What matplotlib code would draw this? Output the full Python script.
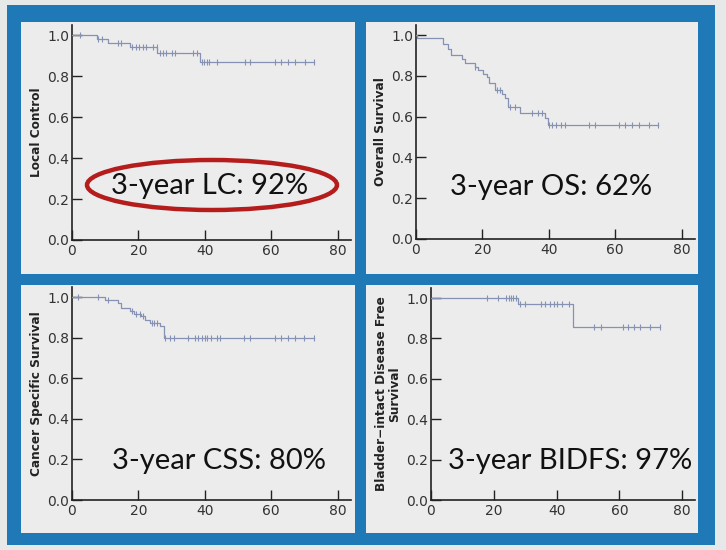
import numpy as np
import matplotlib
matplotlib.use("Agg")
import matplotlib.pyplot as plt
from matplotlib.patches import Rectangle, Ellipse

# ---------------- data ----------------
x_ticks = [0, 20, 40, 60, 80]
y_ticks = [0.0, 0.2, 0.4, 0.6, 0.8, 1.0]
y_tick_labels = ["0.0", "0.2", "0.4", "0.6", "0.8", "1.0"]

# Local control
lc_event_times = [7.4, 10.7, 17.4, 25.7, 38.5]
lc_surv = [1.0, 0.984, 0.963, 0.943, 0.915, 0.870]
lc_censor = [2.4, 7.9, 8.9, 13.9, 14.9, 18.2, 19.2, 20.2, 21.3, 22.3, 24.5, 25.5,
             26.5, 27.5, 28.3, 30.0, 31.0, 36.5, 37.5, 39.0, 39.7, 40.5, 41.3, 43.7,
             52.0, 53.5, 61.0, 63.0, 65.0, 67.0, 70.0, 73.0]

# Overall survival
os_event_times = [0.3, 8.0, 9.7, 10.5, 13.9, 14.9, 17.7, 18.7, 20.2, 21.3, 22.0,
                  23.8, 25.9, 26.8, 27.8, 31.3, 38.7, 39.6]
os_surv = [1.0, 0.984, 0.959, 0.931, 0.902, 0.881, 0.866, 0.845, 0.829, 0.810, 0.793,
           0.763, 0.730, 0.711, 0.690, 0.649, 0.620, 0.592, 0.560]
os_censor = [17.9, 24.3, 25.3, 28.3, 29.8, 35.0, 36.8, 37.8, 40.1, 41.0, 42.0, 43.8,
             45.0, 52.0, 53.8, 61.0, 63.0, 65.0, 67.0, 70.0, 73.0]

# Cancer specific survival
css_event_times = [9.9, 13.9, 14.9, 17.6, 18.6, 20.9, 21.9, 23.5, 26.5, 27.7]
css_surv = [1.0, 0.984, 0.971, 0.946, 0.933, 0.917, 0.906, 0.889, 0.873, 0.857, 0.797]
css_censor = [1.9, 7.9, 10.9, 18.2, 19.4, 20.4, 21.4, 24.0, 24.8, 25.5, 28.0, 29.5,
              30.7, 35.0, 37.0, 38.0, 39.0, 40.0, 40.7, 41.7, 43.7, 44.7, 51.7, 53.7,
              61.0, 63.0, 65.0, 67.0, 69.8, 72.8]

# Bladder-intact disease free survival
bidfs_event_times = [27.8, 45.2]
bidfs_surv = [1.0, 0.970, 0.858]
bidfs_censor = [17.7, 21.5, 23.9, 24.7, 25.4, 26.2, 27.1, 28.4, 29.9, 34.9, 36.3,
                37.9, 39.2, 40.0, 41.6, 44.0, 51.9, 54.1, 61.1, 62.9, 64.7, 66.6,
                69.8, 73.0]

panels = [
    ("Local Control", lc_event_times, lc_surv, lc_censor, "3-year LC: 92%"),
    ("Overall Survival", os_event_times, os_surv, os_censor, "3-year OS: 62%"),
    ("Cancer Specific Survival", css_event_times, css_surv, css_censor, "3-year CSS: 80%"),
    ("Bladder\u2212intact Disease Free\nSurvival", bidfs_event_times, bidfs_surv,
     bidfs_censor, "3-year BIDFS: 97%"),
]

# ---------------- figure ----------------
W, H = 726, 550
fig = plt.figure(figsize=(W / 100, H / 100), dpi=100)
fig.patch.set_facecolor("#e7e9e9")

def fbox(x0, y0, x1, y1):
    """pixel box (top-left origin) -> figure fraction [l, b, w, h]"""
    return [x0 / W, 1 - y1 / H, (x1 - x0) / W, (y1 - y0) / H]

BLUE = "#1f79b7"
PANEL = "#ececec"
l, b, w, h = fbox(7, 5, 715, 545)
fig.patches.append(Rectangle((l, b), w, h, transform=fig.transFigure,
                             facecolor=BLUE, edgecolor="none", zorder=0))
for (x0, y0, x1, y1) in [(21, 22, 355, 274), (366, 22, 698, 274),
                         (21, 285, 355, 533), (366, 285, 698, 533)]:
    l, b, w, h = fbox(x0, y0, x1, y1)
    fig.patches.append(Rectangle((l, b), w, h, transform=fig.transFigure,
                                 facecolor=PANEL, edgecolor="none", zorder=0.5))

axes_px = [(72, 25, 351, 240), (416, 25, 695, 239),
           (72, 287, 351, 500), (431, 288, 695, 500)]
xmax = [84, 84, 84, 84.1]
ylab_x = [-0.105, -0.105, -0.105, -0.112]

text_pos = [(210, 186), (551, 187), (219, 461), (570, 461)]

LINE = "#8592b4"

for i, (ylabel, et, sv, cens, txt) in enumerate(panels):
    ax = fig.add_axes(fbox(*axes_px[i]))
    ax.set_zorder(2)
    ax.set_facecolor("none")
    # step curve
    xs = [0.0] + list(et) + [max(cens)]
    ys = list(sv) + [sv[-1]]
    ax.step(xs, ys, where="post", color=LINE, lw=0.9, zorder=3)
    # censor marks
    cens = np.asarray(cens)
    idx = np.searchsorted(np.asarray(et), cens, side="right")
    cy = np.asarray(sv)[idx]
    ax.plot(cens, cy, linestyle="none", marker="|", markersize=4,
            color=LINE, mew=0.8, zorder=3)

    ax.set_xlim(0, xmax[i])
    ax.set_ylim(0, 1.05)
    ax.set_xticks(x_ticks)
    ax.set_yticks(y_ticks)
    ax.set_yticklabels(y_tick_labels)
    for s in ["top", "right"]:
        ax.spines[s].set_visible(False)
    for s in ["left", "bottom"]:
        ax.spines[s].set_linewidth(1.2)
        ax.spines[s].set_color("#222222")
    ax.tick_params(direction="in", length=7, width=1.0, colors="#222222",
                   labelsize=10, labelcolor="#333333")
    ax.tick_params(axis="x", pad=3)
    ax.tick_params(axis="y", pad=2)
    ax.set_ylabel(ylabel, fontsize=8.7, fontweight="bold", color="#222222",
                  linespacing=1.0)
    ax.yaxis.set_label_coords(ylab_x[i], 0.5)

    tx, ty = text_pos[i]
    fig.text(tx / W, 1 - ty / H, txt, ha="center", va="center",
             fontsize=21, family="Lato", color="#111111", zorder=5)

# red ellipse around LC
ex, ey = 212, 185
fig.patches.append(Ellipse((ex / W, 1 - ey / H), 250 / W, 50 / H,
                           transform=fig.transFigure, facecolor="none",
                           edgecolor="#b51d1d", lw=3.2, zorder=6))

fig.savefig("out.png", dpi=100, facecolor=fig.get_facecolor())
